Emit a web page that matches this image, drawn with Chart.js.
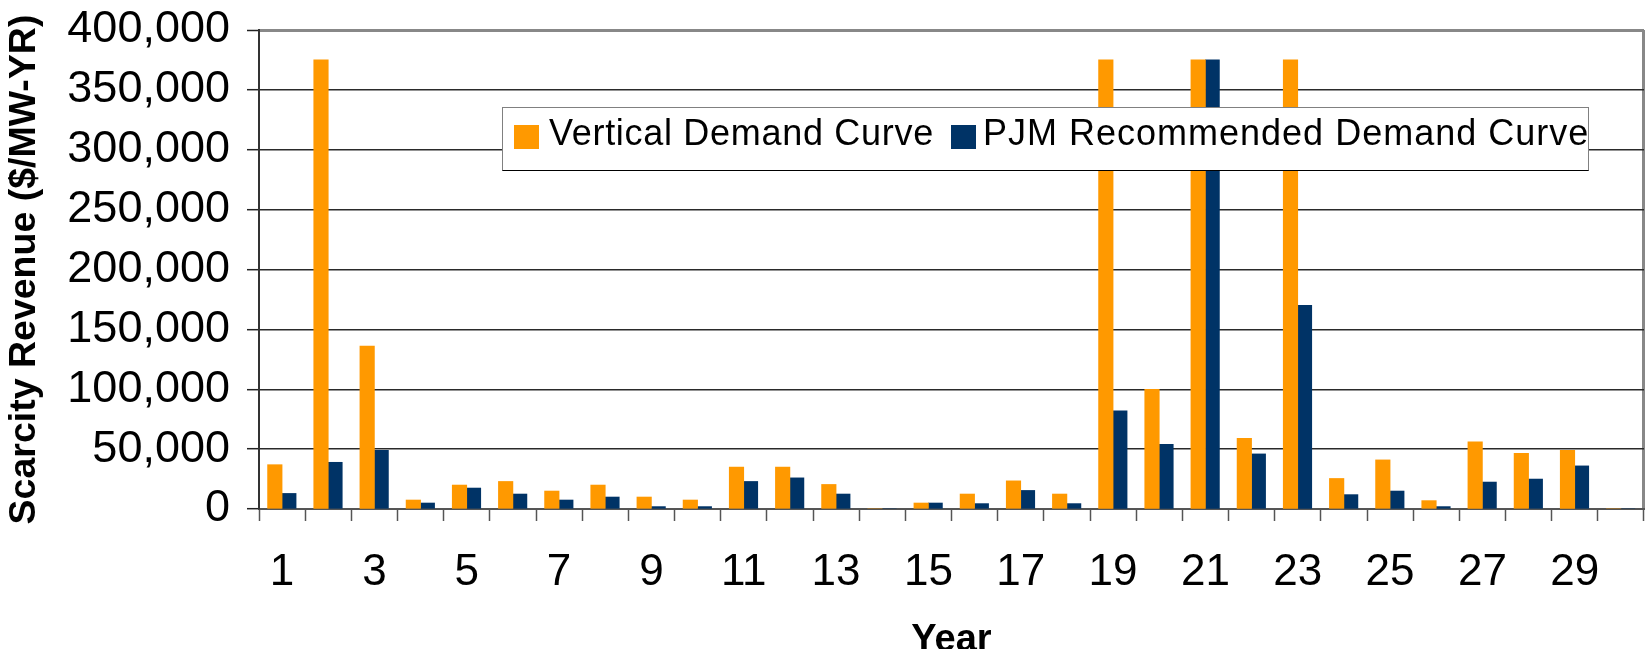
<!DOCTYPE html>
<html>
<head>
<meta charset="utf-8">
<script src="https://cdn.jsdelivr.net/npm/chart.js@4.4.1/dist/chart.umd.min.js"></script>
<style>
  html, body { margin: 0; padding: 0; background: #fff; }
  #wrap { position: relative; width: 1648px; height: 649px; overflow: hidden; background: #fff; }
  #c { position: absolute; left: 0; top: 0; }
  #legend {
    position: absolute; left: 502px; top: 107px; width: 1087px; height: 64px;
    box-sizing: border-box; background: #fff;
    border-top: 1.5px solid #808080; border-left: 1.5px solid #808080;
    border-right: 1.5px solid #808080; border-bottom: 1.5px solid #000;
    font-family: "Liberation Sans", Arial, sans-serif; font-size: 36px; color: #000;
  }
  #legend .sq { position: absolute; width: 25px; height: 24px; }
  #legend .tx { position: absolute; line-height: 36px; white-space: nowrap; letter-spacing: 0.7px; }
</style>
</head>
<body>
<div id="wrap">
  <canvas id="c" width="1648" height="649"></canvas>
  <div id="legend"></div>
</div>
<script>
const categories = ['1','2','3','4','5','6','7','8','9','10','11','12','13','14','15','16','17','18','19','20','21','22','23','24','25','26','27','28','29','30'];
const seriesNames = ['Vertical Demand Curve', 'PJM Recommended Demand Curve'];
const verticalCurve = [37000, 375000, 136000, 7500, 20000, 23000, 15000, 20000, 10000, 7500, 35000, 35000, 20500, 0, 5000, 12500, 23500, 12500, 375000, 100000, 375000, 59000, 375000, 25500, 41000, 7000, 56000, 46500, 49000, 0];
const pjmCurve = [13000, 39000, 49000, 5000, 17500, 12500, 7500, 10000, 2000, 2000, 23000, 26000, 12500, 0, 5000, 4500, 15500, 4500, 82000, 54000, 375000, 46000, 170000, 12000, 15000, 2000, 22500, 25000, 36000, 0];
const seriesColors = ['#FF9900', '#003366'];
const yTitle = 'Scarcity Revenue ($/MW-YR)';
const xTitle = 'Year';
const yMax = 400000;
const yStep = 50000;

const FONT = '"Liberation Sans", Arial, sans-serif';

const chart = new Chart(document.getElementById('c').getContext('2d'), {
  type: 'bar',
  data: {
    labels: categories,
    datasets: [
      { label: seriesNames[0], data: verticalCurve, backgroundColor: seriesColors[0], barThickness: 14.5, borderWidth: 0 },
      { label: seriesNames[1], data: pjmCurve, backgroundColor: seriesColors[1], barThickness: 14, borderWidth: 0 }
    ]
  },
  options: {
    responsive: false,
    animation: false,
    devicePixelRatio: 1,
    layout: { padding: { top: 30, right: 4, bottom: 0, left: 0 } },
    plugins: { legend: { display: false }, tooltip: { enabled: false } },
    scales: {
      x: {
        afterFit: s => { s.height = 140; },
        offset: true,
        grid: {
          offset: true,
          drawOnChartArea: true,
          drawTicks: true,
          tickLength: 12,
          color: c => c.type === 'tick' ? 'rgba(0,0,0,0)' : '#888',
          lineWidth: c => c.type === 'tick' ? 1 : 3,
          tickColor: '#555',
          tickWidth: 1.5
        },
        border: { display: true, color: '#555', width: 2 },
        ticks: {
          autoSkip: false, maxRotation: 0, minRotation: 0, padding: 25, color: '#000',
          font: { family: FONT, size: 44 },
          callback: function (v, i) { return i % 2 === 0 ? this.getLabelForValue(v) : ''; }
        },
        title: {
          display: true, text: xTitle, color: '#000',
          font: { family: FONT, size: 38, weight: 'bold', lineHeight: 0.45 },
          padding: { top: 0, bottom: 0 }
        }
      },
      y: {
        min: 0, max: yMax,
        afterFit: s => { s.width = 259; },
        grid: {
          color: c => (c.tick && c.tick.value === yMax) ? '#888' : '#2a2a2a',
          lineWidth: c => (c.tick && c.tick.value === yMax) ? 3 : 1.4,
          tickColor: '#222', tickLength: 12, tickWidth: 1.5
        },
        border: { display: true, color: '#333', width: 2 },
        ticks: {
          stepSize: yStep, padding: 17, color: '#000',
          font: { family: FONT, size: 45, lineHeight: 0.5 },
          callback: v => v.toLocaleString('en-US')
        },
        title: {
          display: true, text: yTitle, color: '#000',
          font: { family: FONT, size: 37.5, weight: 'bold' },
          padding: { top: 2, bottom: 0 }
        }
      }
    }
  }
});

// HTML legend built from the chart's datasets
const legend = document.getElementById('legend');
const itemPos = [{ sq: 11, tx: 46 }, { sq: 448, tx: 480 }];
chart.data.datasets.forEach((ds, i) => {
  const sq = document.createElement('div');
  sq.className = 'sq';
  sq.style.left = itemPos[i].sq + 'px';
  sq.style.top = '17px';
  sq.style.background = ds.backgroundColor;
  legend.appendChild(sq);
  const tx = document.createElement('div');
  tx.className = 'tx';
  tx.style.left = itemPos[i].tx + 'px';
  tx.style.top = '7px';
  tx.style.letterSpacing = i === 1 ? '1px' : '0.7px';
  tx.textContent = ds.label;
  legend.appendChild(tx);
});
</script>
</body>
</html>
